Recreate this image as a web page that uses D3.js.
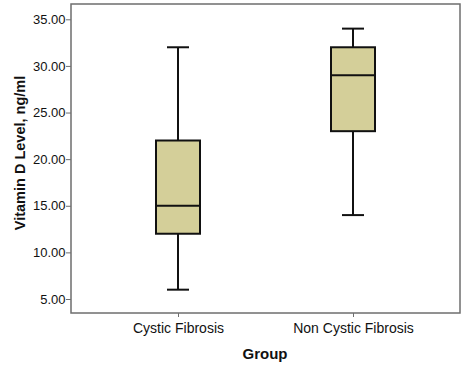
<!DOCTYPE html>
<html><head><meta charset="utf-8">
<script src="https://cdn.jsdelivr.net/npm/d3@7"></script>
<style>body{margin:0;background:#fff;}svg{display:block;font-family:"Liberation Sans",Arial,sans-serif;}</style>
</head><body>
<svg id="c" width="466" height="372"></svg>
<script>
const categories = ["Cystic Fibrosis", "Non Cystic Fibrosis"];
const mins = [6, 14];
const q1s = [12, 23];
const medians = [15, 29];
const q3s = [22, 32];
const maxs = [32, 34];
const yTicks = [5, 10, 15, 20, 25, 30, 35];

const svg = d3.select("#c");
const L = 71, R = 460, T = 4, B = 313;
const y = d3.scaleLinear().domain([5, 35]).range([299, 19.3]);
const x = d3.scalePoint().domain(categories).range([178, 353]);

svg.append("rect").attr("x", L).attr("y", T).attr("width", R - L).attr("height", B - T)
  .attr("fill", "#fff").attr("stroke", "#6e6e6e").attr("stroke-width", 1.5);

const yAxis = svg.append("g").attr("transform", `translate(${L},0)`)
  .call(d3.axisLeft(y).tickValues(yTicks).tickFormat(d3.format(".2f")).tickSize(5).tickPadding(0.5));
yAxis.select(".domain").remove();
yAxis.selectAll("line").attr("stroke", "#6e6e6e");
yAxis.selectAll("text").attr("font-size", 13).attr("fill", "#111").attr("font-family", "Liberation Sans, Arial, sans-serif");

const xAxis = svg.append("g").attr("transform", `translate(0,${B})`)
  .call(d3.axisBottom(x).tickSize(4).tickPadding(6));
xAxis.select(".domain").remove();
xAxis.selectAll("line").attr("stroke", "#6e6e6e");
xAxis.selectAll("text").attr("font-size", 14).attr("fill", "#111").attr("font-family", "Liberation Sans, Arial, sans-serif");

const bw = 44, cw = 22;
const data = categories.map((c, i) => ({c, mn: mins[i], q1: q1s[i], md: medians[i], q3: q3s[i], mx: maxs[i]}));
const g = svg.selectAll("g.box").data(data).enter().append("g").attr("class", "box");
const st = "#111", sw = 2;
g.append("line").attr("x1", d => x(d.c)).attr("x2", d => x(d.c)).attr("y1", d => y(d.mx)).attr("y2", d => y(d.q3)).attr("stroke", st).attr("stroke-width", sw);
g.append("line").attr("x1", d => x(d.c)).attr("x2", d => x(d.c)).attr("y1", d => y(d.q1)).attr("y2", d => y(d.mn)).attr("stroke", st).attr("stroke-width", sw);
g.append("line").attr("x1", d => x(d.c) - cw/2).attr("x2", d => x(d.c) + cw/2).attr("y1", d => y(d.mx)).attr("y2", d => y(d.mx)).attr("stroke", st).attr("stroke-width", sw);
g.append("line").attr("x1", d => x(d.c) - cw/2).attr("x2", d => x(d.c) + cw/2).attr("y1", d => y(d.mn)).attr("y2", d => y(d.mn)).attr("stroke", st).attr("stroke-width", sw);
g.append("rect").attr("x", d => x(d.c) - bw/2).attr("width", bw).attr("y", d => y(d.q3)).attr("height", d => y(d.q1) - y(d.q3))
  .attr("fill", "#d4cf99").attr("stroke", st).attr("stroke-width", sw);
g.append("line").attr("x1", d => x(d.c) - bw/2).attr("x2", d => x(d.c) + bw/2).attr("y1", d => y(d.md)).attr("y2", d => y(d.md)).attr("stroke", st).attr("stroke-width", sw);

svg.append("text").attr("x", 265).attr("y", 358.5).attr("text-anchor", "middle")
  .attr("font-size", 15).attr("font-weight", "bold").attr("fill", "#111").text("Group");
svg.append("text").attr("transform", `translate(25,153) rotate(-90)`).attr("text-anchor", "middle")
  .attr("font-size", 14.5).attr("font-weight", "bold").attr("fill", "#111").text("Vitamin D Level, ng/ml");
</script>
</body></html>
